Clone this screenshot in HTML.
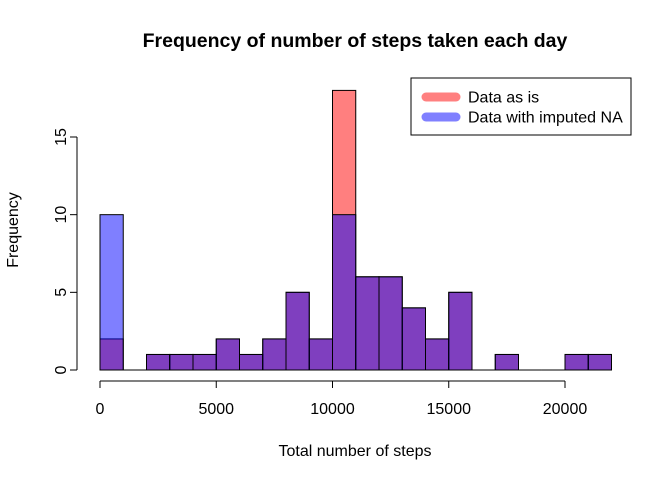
<!DOCTYPE html>
<html><head><meta charset="utf-8"><style>
html,body{margin:0;padding:0;background:#fff;}
svg{display:block;font-family:"Liberation Sans",Arial,sans-serif;}
</style></head><body>
<svg id="chart" width="672" height="480" xmlns="http://www.w3.org/2000/svg">
<text x="355" y="47" text-anchor="middle" font-size="19.5" font-weight="bold">Frequency of number of steps taken each day</text>
<text x="355" y="456" text-anchor="middle" font-size="16">Total number of steps</text>
<text transform="translate(18,230) rotate(-90)" text-anchor="middle" font-size="16">Frequency</text>
<g id="bars-red"></g>
<g id="bars-blue"></g>
<g id="axes"></g>
<g>
<rect x="411" y="78" width="220" height="57" fill="#fff" stroke="#000"/>
<line x1="426" y1="97" x2="456" y2="97" stroke="#ff8080" stroke-width="9" stroke-linecap="round"/>
<text x="468" y="102.5" font-size="16">Data as is</text>
<line x1="426" y1="117" x2="456" y2="117" stroke="#8080ff" stroke-width="9" stroke-linecap="round"/>
<text x="468" y="122.5" font-size="16">Data with imputed NA</text>
</g>
</svg>
<script>
const binStarts = [0,1000,2000,3000,4000,5000,6000,7000,8000,9000,10000,11000,12000,13000,14000,15000,16000,17000,18000,19000,20000,21000];
const binWidth = 1000;
const countsAsIs = [2,0,1,1,1,2,1,2,5,2,18,6,6,4,2,5,0,1,0,0,1,1];
const countsImputed = [10,0,1,1,1,2,1,2,5,2,10,6,6,4,2,5,0,1,0,0,1,1];
const xTicks = [0,5000,10000,15000,20000];
const yTicks = [0,5,10,15];

const NS = "http://www.w3.org/2000/svg";
function xs(v){ return 100 + v * (465/20000); }
function ys(v){ return 370 - v * (233/15); }
function mk(tag, attrs, parent){
  const e = document.createElementNS(NS, tag);
  for (const k in attrs) e.setAttribute(k, attrs[k]);
  parent.appendChild(e);
  return e;
}
function drawBars(counts, fill, gid, prefix){
  const g = document.getElementById(gid);
  counts.forEach((c,i)=>{
    const x0 = xs(binStarts[i]), x1 = xs(binStarts[i]+binWidth);
    let r;
    if (c === 0) {
      r = mk('line', {x1:x0, x2:x1, y1:ys(0), y2:ys(0), stroke:'#000', 'stroke-width':1}, g);
    } else {
      r = mk('rect', {x:x0, y:ys(c), width:x1-x0, height:ys(0)-ys(c), fill:fill, stroke:'#000', 'stroke-width':1}, g);
    }
    
    
  });
}
drawBars(countsAsIs, 'rgba(255,0,0,0.5)', 'bars-red', 'as-is');
drawBars(countsImputed, 'rgba(0,0,255,0.5)', 'bars-blue', 'imputed');

const ax = document.getElementById('axes');
const xl = mk('line', {x1:xs(xTicks[0]), x2:xs(xTicks[xTicks.length-1]), y1:381, y2:381, stroke:'#000'}, ax);


xTicks.forEach(t=>{
  mk('line', {x1:xs(t), x2:xs(t), y1:381, y2:388, stroke:'#000'}, ax);
  const tx = mk('text', {x:xs(t), y:414, 'text-anchor':'middle', 'font-size':16}, ax);
  tx.textContent = t;
  
  
});
const yl = mk('line', {x1:77, x2:77, y1:ys(yTicks[0]), y2:ys(yTicks[yTicks.length-1]), stroke:'#000'}, ax);


yTicks.forEach(t=>{
  mk('line', {x1:70, x2:77, y1:ys(t), y2:ys(t), stroke:'#000'}, ax);
  const tx = mk('text', {transform:'translate(66,'+ys(t)+') rotate(-90)', 'text-anchor':'middle', 'font-size':16}, ax);
  tx.textContent = t;
  
  
});
</script>
</body></html>
